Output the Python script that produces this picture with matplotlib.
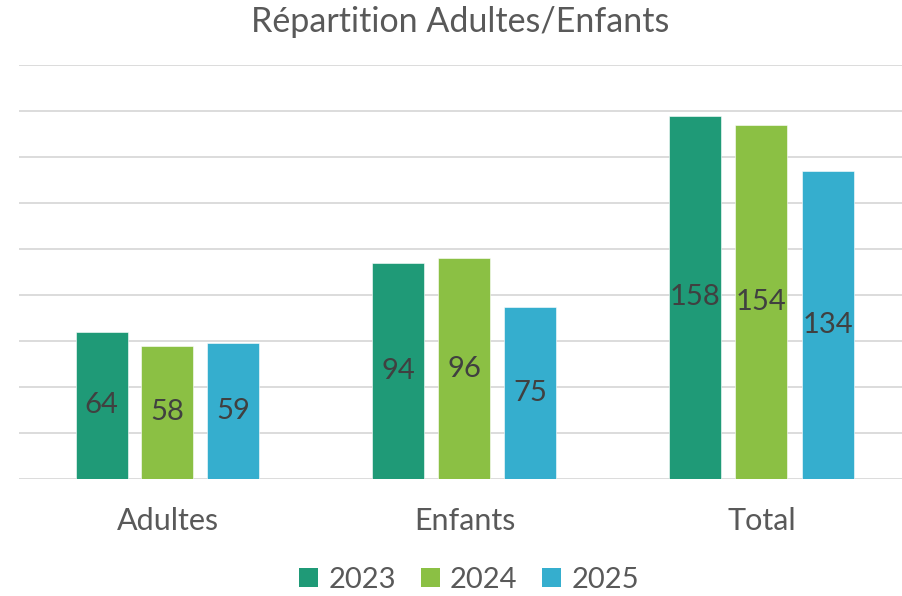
#!/usr/bin/env python3
"""Répartition Adultes/Enfants, grouped bars by year."""

import matplotlib
import numpy as np

matplotlib.use("Agg")
import matplotlib.pyplot as plt
from matplotlib.patches import Patch

CATEGORIES = ["Adultes", "Enfants", "Total"]
YEARS = ["2023", "2024", "2025"]
VALUES_2023 = [64, 94, 158]
VALUES_2024 = [58, 96, 154]
VALUES_2025 = [59, 75, 134]

COLORS = ["#1f9a77", "#8bc044", "#35aece"]
TEXT_GREY = "#595959"
LABEL_GREY = "#404040"

plt.rcParams["font.family"] = ["Lato", "DejaVu Sans"]


def main() -> None:
    fig = plt.figure(figsize=(9.02, 5.96), dpi=100)
    ax = fig.add_axes([19 / 902, 117 / 596, 891 / 902, 414 / 596])

    x = np.arange(len(CATEGORIES))
    step = 66 / 297
    width = 52 / 297
    series = [VALUES_2023, VALUES_2024, VALUES_2025]

    for i, (year, vals) in enumerate(zip(YEARS, series)):
        pos = x + (i - 1) * step
        bars = ax.bar(pos, vals, width=width, color=COLORS[i], edgecolor="white",
                      linewidth=0.4, zorder=3, label=year)
        ax.bar_label(bars, labels=[str(v) for v in vals], label_type="center",
                     fontsize=21, color=LABEL_GREY)

    ax.set_ylim(0, 180)
    ax.set_xlim(-0.5, 2.5)
    ax.set_yticks(np.arange(20, 181, 20))
    ax.yaxis.grid(True, color="#d9d9d9", linewidth=1.3, zorder=0)
    ax.axhline(0, color="#d9d9d9", linewidth=1.3, zorder=2)
    ax.tick_params(axis="y", length=0, labelleft=False)
    ax.tick_params(axis="x", length=0, labelsize=22, labelcolor=TEXT_GREY, pad=20)
    ax.set_xticks(x)
    ax.set_xticklabels(CATEGORIES)
    for spine in ax.spines.values():
        spine.set_visible(False)

    fig.text(460 / 902, 1 - 22 / 596, "Répartition Adultes/Enfants", ha="center",
             va="center", fontsize=24.5, color=TEXT_GREY)

    handles = [Patch(facecolor=c, edgecolor="none") for c in COLORS]
    fig.legend(handles, YEARS, loc="center", bbox_to_anchor=(469 / 902, 1 - 580 / 596),
               ncol=3, frameon=False, fontsize=21, labelcolor=TEXT_GREY,
               handlelength=0.65, handleheight=0.65, handletextpad=0.35,
               columnspacing=0.85)

    fig.savefig("out.png", dpi=100)
    plt.close(fig)


if __name__ == "__main__":
    main()
